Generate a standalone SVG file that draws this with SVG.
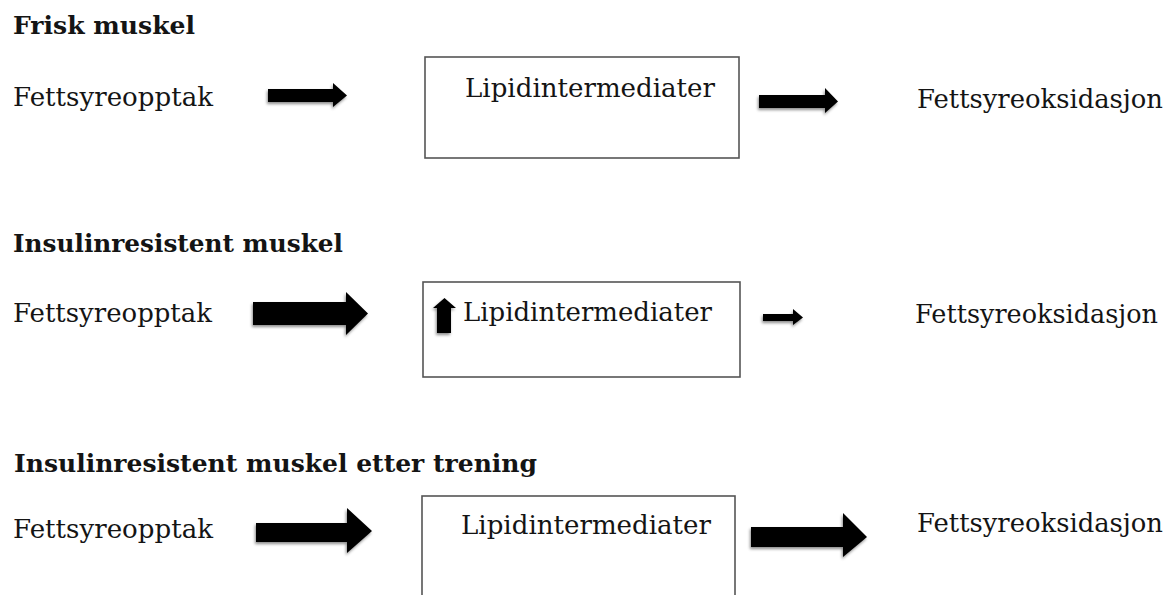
<svg xmlns="http://www.w3.org/2000/svg" width="1173" height="595" viewBox="0 0 1173 595">
<defs>
<filter id="sh" x="-20%" y="-40%" width="140%" height="180%">
<feDropShadow dx="-1" dy="2" stdDeviation="1.5" flood-color="#000" flood-opacity="0.45"/>
</filter>
<style>
.t{font-family:"DejaVu Serif","Liberation Serif",serif;font-size:26px;fill:#141414}
.h{font-family:"DejaVu Serif","Liberation Serif",serif;font-size:24px;font-weight:bold;fill:#141414}
.box{fill:#fff;stroke:#555;stroke-width:1.6}
.arr{fill:#000;filter:url(#sh)}
</style>
</defs>
<rect width="1173" height="595" fill="#fff"/>

<g id="title1"><text class="h" x="13" y="34" textLength="182" lengthAdjust="spacingAndGlyphs">Frisk muskel</text></g>
<g id="opptak1"><text class="t" x="13" y="106" textLength="200" lengthAdjust="spacingAndGlyphs">Fettsyreopptak</text></g>
<g id="lipid1"><rect class="box" x="425" y="57" width="314" height="101"/><text class="t" x="465" y="97" textLength="250" lengthAdjust="spacingAndGlyphs">Lipidintermediater</text></g>
<g id="oks1"><text class="t" x="917" y="108" textLength="246" lengthAdjust="spacingAndGlyphs">Fettsyreoksidasjon</text></g>

<g id="title2"><text class="h" x="13" y="252" textLength="330" lengthAdjust="spacingAndGlyphs">Insulinresistent muskel</text></g>
<g id="opptak2"><text class="t" x="13" y="322" textLength="199" lengthAdjust="spacingAndGlyphs">Fettsyreopptak</text></g>
<g id="lipid2"><rect class="box" x="423" y="282" width="317" height="95"/><path class="arr" d="M437,333 L437,308 L433,308 L444.5,298 L456,308 L451,308 L451,333 Z"/><text class="t" x="463" y="321" textLength="249" lengthAdjust="spacingAndGlyphs">Lipidintermediater</text></g>
<g id="oks2"><text class="t" x="915" y="323" textLength="243" lengthAdjust="spacingAndGlyphs">Fettsyreoksidasjon</text></g>

<g id="title3"><text class="h" x="14" y="472" textLength="523" lengthAdjust="spacingAndGlyphs">Insulinresistent muskel etter trening</text></g>
<g id="opptak3"><text class="t" x="13" y="538" textLength="200" lengthAdjust="spacingAndGlyphs">Fettsyreopptak</text></g>
<g id="lipid3"><rect class="box" x="422" y="496" width="313" height="110"/><text class="t" x="461" y="534" textLength="250" lengthAdjust="spacingAndGlyphs">Lipidintermediater</text></g>
<g id="oks3"><text class="t" x="917" y="532" textLength="246" lengthAdjust="spacingAndGlyphs">Fettsyreoksidasjon</text></g>

<g id="connectors">
<path class="arr" d="M268,89 L333,89 L333,83 L347,95.5 L333,107 L333,102 L268,102 Z"/>
<path class="arr" d="M759,95 L825,95 L825,88 L838,101.5 L825,113 L825,108 L759,108 Z"/>
<path class="arr" d="M253,302 L346,302 L346,292 L368,313.5 L346,335 L346,325 L253,325 Z"/>
<path class="arr" d="M763,314 L793,314 L793,309 L803,317.5 L793,325 L793,321 L763,321 Z"/>
<path class="arr" d="M256,523 L347,523 L347,508 L372,531 L347,553 L347,542 L256,542 Z"/>
<path class="arr" d="M751,527 L843,527 L843,513 L867,537 L843,557 L843,547 L751,547 Z"/>
</g>
</svg>
